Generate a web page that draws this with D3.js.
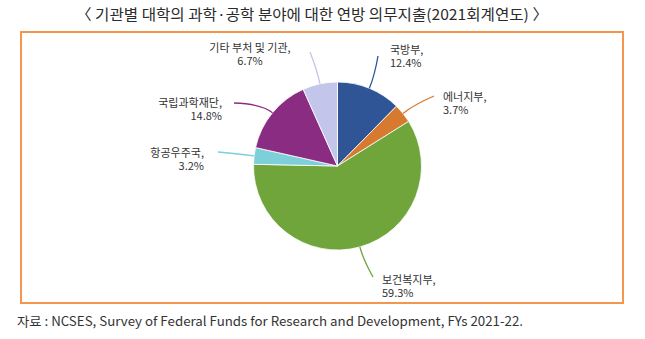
<!DOCTYPE html>
<html>
<head>
<meta charset="utf-8">
<script src="https://cdn.jsdelivr.net/npm/d3@7"></script>
<style>
  body { margin: 0; background: #fff; }
  text { font-family: "Noto Sans CJK KR", "Noto Sans", sans-serif; }
</style>
</head>
<body>
<div class="chart"></div>
<script>
var svgWidth = 645;
var svgHeight = 339;

// data (clockwise from 12 o'clock)
var agencies = ["국방부", "에너지부", "보건복지부", "항공우주국", "국립과학재단", "기타 부처 및 기관"];
var shares = [12.4, 3.7, 59.3, 3.2, 14.8, 6.7];
var colors = ["#2f5597", "#d57a2f", "#6fa53b", "#7dcfd9", "#8a2c81", "#c3c6ea"];

// where each label sits: leader end point, text anchor point, alignment
var labelLayout = [
  { end: [378, 56], tx: 390, ty: 54, anchor: "start" },
  { end: [434, 96], tx: 443, ty: 101, anchor: "start" },
  { end: [373, 277], tx: 382, ty: 284, anchor: "start" },
  { end: [218, 152], tx: 204, ty: 157, anchor: "end" },
  { end: [234, 103], tx: 222, ty: 107, anchor: "end" },
  { end: [310, 52], tx: 250, ty: 52, anchor: "middle" }
];

var title = "〈 기관별 대학의 과학·공학 분야에 대한 연방 의무지출(2021회계연도) 〉";
var source = "자료 : NCSES, Survey of Federal Funds for Research and Development, FYs 2021-22.";

var cx = 337.5, cy = 166, radius = 84;

var svg = d3.select(".chart")
  .append("svg")
  .attr("width", svgWidth)
  .attr("height", svgHeight);

// title
svg.append("text")
  .attr("x", 312)
  .attr("y", 20)
  .attr("text-anchor", "middle")
  .attr("font-size", 15)
  .attr("fill", "#2b2b2b")
  .attr("textLength", 472)
  .attr("lengthAdjust", "spacingAndGlyphs")
  .text(title);

// orange frame
svg.append("rect")
  .attr("x", 21)
  .attr("y", 32)
  .attr("width", 602)
  .attr("height", 271)
  .attr("fill", "none")
  .attr("stroke", "#f5964f")
  .attr("stroke-width", 2);

var data = agencies.map(function(d, i) {
  return { name: d, value: shares[i], color: colors[i], layout: labelLayout[i] };
});

var pie = d3.pie()
  .sort(null)
  .value(d => d.value);

var arc = d3.arc()
  .innerRadius(0)
  .outerRadius(radius);

var arcs = pie(data);

var chartGroup = svg.append("g")
  .attr("transform", `translate(${cx}, ${cy})`);

chartGroup.selectAll("path.slice")
  .data(arcs)
  .enter()
  .append("path")
  .attr("class", "slice")
  .attr("d", arc)
  .attr("fill", d => d.data.color)
  .attr("stroke", "#fff")
  .attr("stroke-width", 0.8);

// leader lines: from slice edge at mid angle, bending towards the label
function leader(d) {
  var a = (d.startAngle + d.endAngle) / 2;
  var x0 = Math.sin(a) * radius, y0 = -Math.cos(a) * radius;
  var xc = Math.sin(a) * (radius + 14), yc = -Math.cos(a) * (radius + 14);
  var x1 = d.data.layout.end[0] - cx, y1 = d.data.layout.end[1] - cy;
  return `M${x0},${y0}Q${xc},${yc} ${x1},${y1}`;
}

chartGroup.selectAll("path.leader")
  .data(arcs)
  .enter()
  .append("path")
  .attr("class", "leader")
  .attr("d", leader)
  .attr("fill", "none")
  .attr("stroke", d => d.data.color)
  .attr("stroke-width", 1.3);

// labels
var labels = svg.selectAll("text.label")
  .data(data)
  .enter()
  .append("text")
  .attr("class", "label")
  .attr("text-anchor", d => d.layout.anchor)
  .attr("font-size", 11)
  .attr("fill", "#333");

labels.append("tspan")
  .attr("x", d => d.layout.tx)
  .attr("y", d => d.layout.ty)
  .text(d => d.name + ",");

labels.append("tspan")
  .attr("x", d => d.layout.tx)
  .attr("y", d => d.layout.ty + 13)
  .text(d => d.value.toFixed(1) + "%");

// source note
svg.append("text")
  .attr("x", 17)
  .attr("y", 326)
  .attr("font-size", 13)
  .attr("fill", "#333")
  .attr("textLength", 506)
  .attr("lengthAdjust", "spacingAndGlyphs")
  .text(source);
</script>
</body>
</html>
